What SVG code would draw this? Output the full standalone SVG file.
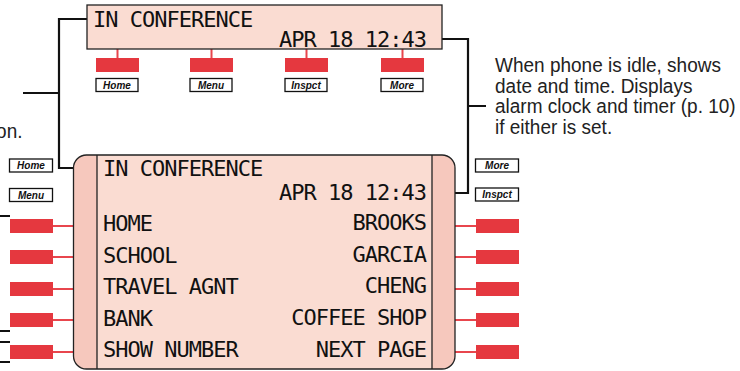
<svg xmlns="http://www.w3.org/2000/svg" width="740" height="371" viewBox="0 0 740 371">
<style>
.lcd{font-family:"DejaVu Sans Mono","Liberation Mono",monospace;font-size:22px;letter-spacing:-1px;fill:#111}
.disp{fill:#fadcd2;stroke:#222;stroke-width:1.3}
.stripe{fill:#f6c8bd}
.btn{fill:#e5383f}
.stem{stroke:#e8464d;stroke-width:2;fill:none}
.lead{stroke:#111;stroke-width:2.2;fill:none}
.lbl{fill:#fff;stroke:#111;stroke-width:1.3}
.lbt{font-family:"Liberation Sans",Arial,sans-serif;font-size:10px;font-weight:bold;font-style:italic;fill:#111;text-anchor:middle}
.note{font-family:"Liberation Sans",Arial,sans-serif;font-size:21px;fill:#222}
</style>
<rect width="740" height="371" fill="#fff"/>
<g id="connectors">
<path class="lead" d="M92,19 H59 V168 H93 M23,93 H59"/>
<path class="lead" d="M430,39 H468 V193 H430 M468,106 H486"/>
<path class="lead" d="M0,216 H10 M0,331 H10 M0,342 H10 M0,362 H10"/>
<path class="stem" d="M117.5,49 V58 M211.5,49 V58 M306.5,49 V58 M402.5,49 V58"/>
<path class="stem" d="M53,226 H97 M53,257 H97 M53,289 H97 M53,320 H97 M53,352 H97"/>
<path class="stem" d="M432,226 H476 M432,257 H476 M432,289 H476 M432,320 H476 M432,352 H476"/>
</g>
<g id="top-display">
<rect class="disp" x="87" y="5" width="355" height="44"/>
<text class="lcd" x="93" y="26.5">IN CONFERENCE</text>
<text class="lcd" x="426" y="46.5" text-anchor="end">APR 18 12:43</text>
</g>
<g id="top-buttons">
<rect class="btn" x="96" y="58" width="43" height="14"/>
<rect class="btn" x="190" y="58" width="43" height="14"/>
<rect class="btn" x="285" y="58" width="43" height="14"/>
<rect class="btn" x="381" y="58" width="43" height="14"/>
<rect class="lbl" x="96" y="78.5" width="42" height="13"/><text class="lbt" x="117" y="88.8">Home</text>
<rect class="lbl" x="190" y="78.5" width="42" height="13"/><text class="lbt" x="211" y="88.8">Menu</text>
<rect class="lbl" x="285" y="78.5" width="42" height="13"/><text class="lbt" x="306" y="88.8">Inspct</text>
<rect class="lbl" x="381" y="78.5" width="42" height="13"/><text class="lbt" x="402" y="88.8">More</text>
</g>
<g id="bottom-display">
<rect class="stripe" x="73.5" y="155" width="381.5" height="214" rx="13"/>
<rect x="97" y="155" width="335" height="214" fill="#fadcd2"/>
<rect x="73.5" y="155" width="381.5" height="214" rx="13" fill="none" stroke="#222" stroke-width="1.3"/>
<path d="M97,155 V369 M432,155 V369" stroke="#222" stroke-width="1.3"/>
<text class="lcd" x="103" y="176">IN CONFERENCE</text>
<text class="lcd" x="426" y="200" text-anchor="end">APR 18 12:43</text>
<text class="lcd" x="103" y="230.5">HOME</text>
<text class="lcd" x="103" y="262.5">SCHOOL</text>
<text class="lcd" x="103" y="294">TRAVEL AGNT</text>
<text class="lcd" x="103" y="325.5">BANK</text>
<text class="lcd" x="103" y="357">SHOW NUMBER</text>
<text class="lcd" x="426" y="230" text-anchor="end">BROOKS</text>
<text class="lcd" x="426" y="261.5" text-anchor="end">GARCIA</text>
<text class="lcd" x="426" y="293" text-anchor="end">CHENG</text>
<text class="lcd" x="426" y="324.5" text-anchor="end">COFFEE SHOP</text>
<text class="lcd" x="426" y="356.5" text-anchor="end">NEXT PAGE</text>
</g>
<g id="side-buttons">
<rect class="lbl" x="9.5" y="159" width="43" height="13"/><text class="lbt" x="31" y="169.3">Home</text>
<rect class="lbl" x="9.5" y="188.5" width="43" height="13"/><text class="lbt" x="31" y="198.8">Menu</text>
<rect class="lbl" x="475.5" y="159" width="43" height="13"/><text class="lbt" x="497" y="169.3">More</text>
<rect class="lbl" x="475.5" y="188" width="43" height="13"/><text class="lbt" x="497" y="198.3">Inspct</text>
<rect class="btn" x="10" y="219" width="43" height="14"/>
<rect class="btn" x="10" y="250" width="43" height="14"/>
<rect class="btn" x="10" y="282" width="43" height="14"/>
<rect class="btn" x="10" y="313" width="43" height="14"/>
<rect class="btn" x="10" y="345" width="43" height="14"/>
<rect class="btn" x="476" y="219" width="43" height="14"/>
<rect class="btn" x="476" y="250" width="43" height="14"/>
<rect class="btn" x="476" y="282" width="43" height="14"/>
<rect class="btn" x="476" y="313" width="43" height="14"/>
<rect class="btn" x="476" y="345" width="43" height="14"/>
</g>
<g id="note-right">
<text class="note" transform="translate(495,0) scale(0.905,1)">
<tspan x="0" y="72.5">When phone is idle, shows</tspan>
<tspan x="0" y="93">date and time. Displays</tspan>
<tspan x="0" y="113.5">alarm clock and timer (p. 10)</tspan>
<tspan x="0" y="134">if either is set.</tspan>
</text>
</g>
<g id="note-left">
<text class="note" text-anchor="end" transform="translate(22.5,138) scale(0.905,1)">on.</text>
</g>
</svg>
